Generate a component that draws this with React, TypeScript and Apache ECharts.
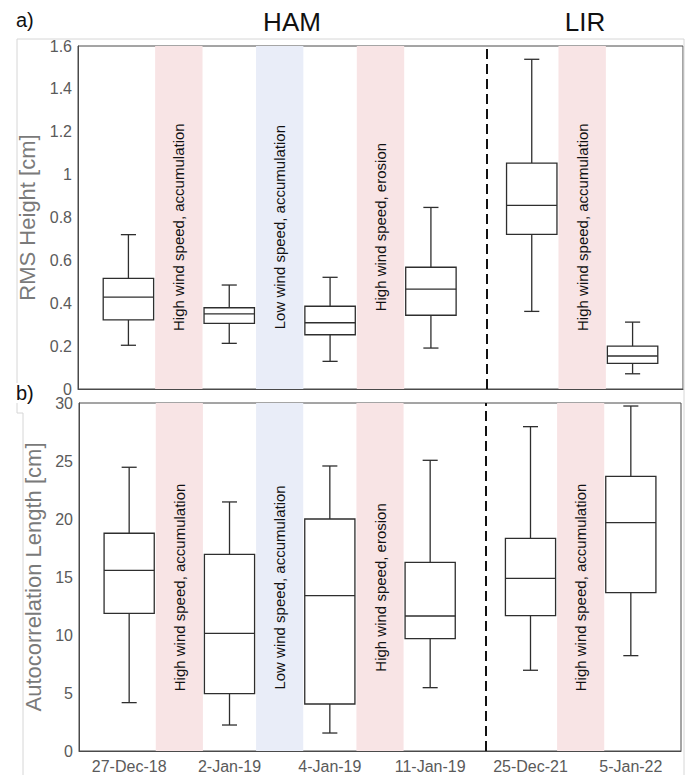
import React, { useEffect, useRef } from "react";
import * as echarts from "echarts";

// ---- data ----
const categories = ["27-Dec-18", "2-Jan-19", "4-Jan-19", "11-Jan-19", "25-Dec-21", "5-Jan-22"];
const boxPositions = [1, 3, 5, 7, 9, 11];

// RMS height [cm]
const rmsLow = [0.204, 0.213, 0.129, 0.191, 0.362, 0.071];
const rmsQ1 = [0.322, 0.306, 0.253, 0.344, 0.721, 0.12];
const rmsMedian = [0.429, 0.35, 0.309, 0.466, 0.857, 0.154];
const rmsQ3 = [0.516, 0.379, 0.386, 0.568, 1.054, 0.2];
const rmsHigh = [0.72, 0.485, 0.521, 0.847, 1.538, 0.312];

// Autocorrelation length [cm]
const aclLow = [4.17, 2.24, 1.55, 5.46, 6.96, 8.22];
const aclQ1 = [11.87, 4.94, 4.05, 9.68, 11.67, 13.65];
const aclMedian = [15.57, 10.14, 13.39, 11.64, 14.89, 19.68];
const aclQ3 = [18.77, 16.95, 20.0, 16.26, 18.33, 23.68];
const aclHigh = [24.46, 21.47, 24.57, 25.06, 27.96, 29.74];

const bandCenters = [2, 4, 6, 10];
const bandLabels = [
  "High wind speed, accumulation",
  "Low wind speed, accumulation",
  "High wind speed, erosion",
  "High wind speed, accumulation",
];
const bandKinds = ["high", "low", "high", "high"];
const siteDivider = 8.1;
const siteNames = ["HAM", "LIR"];
const topTicks = [0, 0.2, 0.4, 0.6, 0.8, 1, 1.2, 1.4, 1.6];
const bottomTicks = [0, 5, 10, 15, 20, 25, 30];

const FONT = "'Liberation Sans', Arial, Helvetica, sans-serif";
const BAND_COLOR: Record<string, string> = { high: "#f8e4e5", low: "#e9edf8" };
const BOX_COLOR = "#2e2e2e";

function boxRender(params: any, api: any) {
  const x = api.value(0);
  const low = api.coord([x, api.value(1)]);
  const q1 = api.coord([x, api.value(2)]);
  const med = api.coord([x, api.value(3)]);
  const q3 = api.coord([x, api.value(4)]);
  const high = api.coord([x, api.value(5)]);
  const unit = api.size([1, 0])[0];
  const hw = unit * 0.5;
  const cap = unit * 0.15;
  const cx = low[0];
  const st = { stroke: BOX_COLOR, lineWidth: 1.3, fill: "none" };
  return {
    type: "group",
    children: [
      { type: "rect", shape: { x: cx - hw, y: q3[1], width: 2 * hw, height: q1[1] - q3[1] }, style: st },
      { type: "line", shape: { x1: cx - hw, y1: med[1], x2: cx + hw, y2: med[1] }, style: st },
      { type: "line", shape: { x1: cx, y1: q3[1], x2: cx, y2: high[1] }, style: st },
      { type: "line", shape: { x1: cx - cap, y1: high[1], x2: cx + cap, y2: high[1] }, style: st },
      { type: "line", shape: { x1: cx, y1: q1[1], x2: cx, y2: low[1] }, style: st },
      { type: "line", shape: { x1: cx - cap, y1: low[1], x2: cx + cap, y2: low[1] }, style: st },
    ],
  };
}

function textRender(params: any, api: any) {
  const p = api.coord([api.value(0), api.value(1)]);
  return {
    type: "text",
    x: p[0],
    y: p[1],
    rotation: Math.PI / 2,
    style: {
      text: bandLabels[api.value(2)],
      fontSize: 15,
      fontFamily: FONT,
      fill: "#111",
      align: "center",
      verticalAlign: "middle",
    },
  };
}

function buildBoxData(low: number[], q1: number[], med: number[], q3: number[], high: number[]) {
  return boxPositions.map((x, i) => [x, low[i], q1[i], med[i], q3[i], high[i]]);
}

const markArea = {
  silent: true,
  data: bandCenters.map((c, i) => [
    { xAxis: c - 0.47, itemStyle: { color: BAND_COLOR[bandKinds[i]] } },
    { xAxis: c + 0.47 },
  ]),
};
const markLine = {
  silent: true,
  symbol: ["none", "none"],
  label: { show: false },
  lineStyle: { type: [10, 5], width: 2, color: "#111" },
  data: [{ xAxis: siteDivider }],
};

export default function App() {
  const ref = useRef<HTMLDivElement>(null);
  useEffect(() => {
    document.body.style.margin = "0";
    const chart = echarts.init(ref.current!, null, { renderer: "svg" });
    const axisLabelStyle = { color: "#5a5a5a", fontSize: 16, fontFamily: FONT, lineHeight: 13 };
    const nameStyle = { color: "#7a7a7a", fontSize: 22, fontFamily: FONT };
    const option: any = {
      animation: false,
      backgroundColor: "#fff",
      grid: [
        { left: 78, top: 46, width: 605, height: 343, show: true, borderColor: "#4a4a4a", borderWidth: 1, backgroundColor: "transparent" },
        { left: 79, top: 403, width: 602, height: 348, show: true, borderColor: "#4a4a4a", borderWidth: 1, backgroundColor: "transparent" },
      ],
      xAxis: [0, 1].map((g) => ({
        type: "value",
        gridIndex: g,
        min: 0,
        max: 12,
        interval: 1,
        axisLine: { show: true, lineStyle: { color: "#4a4a4a" } },
        axisTick: { show: false },
        splitLine: { show: false },
        axisLabel:
          g === 0
            ? { show: false }
            : {
                ...axisLabelStyle,
                margin: 9,
                formatter: (v: number) => {
                  const i = boxPositions.indexOf(v);
                  return i >= 0 ? categories[i] : "";
                },
              },
      })),
      yAxis: [
        {
          type: "value",
          gridIndex: 0,
          min: topTicks[0],
          max: topTicks[topTicks.length - 1],
          interval: 0.2,
          name: "RMS Height [cm]",
          nameLocation: "middle",
          nameGap: 38,
          nameTextStyle: nameStyle,
          axisLine: { show: true, lineStyle: { color: "#4a4a4a" } },
          axisTick: { show: false },
          splitLine: { show: false },
          axisLabel: { ...axisLabelStyle, margin: 6 },
        },
        {
          type: "value",
          gridIndex: 1,
          min: bottomTicks[0],
          max: bottomTicks[bottomTicks.length - 1],
          interval: 5,
          name: "Autocorrelation Length [cm]",
          nameLocation: "middle",
          nameGap: 31,
          nameTextStyle: nameStyle,
          axisLine: { show: true, lineStyle: { color: "#4a4a4a" } },
          axisTick: { show: false },
          splitLine: { show: false },
          axisLabel: { ...axisLabelStyle, margin: 6 },
        },
      ],
      series: [
        {
          type: "custom",
          xAxisIndex: 0,
          yAxisIndex: 0,
          renderItem: boxRender,
          data: buildBoxData(rmsLow, rmsQ1, rmsMedian, rmsQ3, rmsHigh),
          markArea,
          markLine,
          z: 3,
        },
        {
          type: "custom",
          xAxisIndex: 1,
          yAxisIndex: 1,
          renderItem: boxRender,
          data: buildBoxData(aclLow, aclQ1, aclMedian, aclQ3, aclHigh),
          markArea,
          markLine,
          z: 3,
        },
        {
          type: "custom",
          xAxisIndex: 0,
          yAxisIndex: 0,
          renderItem: textRender,
          data: bandCenters.map((c, i) => [c, 0.755, i]),
          z: 4,
        },
        {
          type: "custom",
          xAxisIndex: 1,
          yAxisIndex: 1,
          renderItem: textRender,
          data: bandCenters.map((c, i) => [c, 14.1, i]),
          z: 4,
        },
      ],
      graphic: [
        {
          type: "polyline",
          z: 0,
          silent: true,
          shape: { points: [[684, 775], [684, 39], [17, 39], [17, 413], [23, 413], [23, 775]] },
          style: { stroke: "#d6d6d6", lineWidth: 1, fill: "none" },
        },
        { type: "text", x: 292, y: 22, style: { text: siteNames[0], fontSize: 26, fontFamily: FONT, fill: "#111", align: "center", verticalAlign: "middle" } },
        { type: "text", x: 585, y: 22, style: { text: siteNames[1], fontSize: 26, fontFamily: FONT, fill: "#111", align: "center", verticalAlign: "middle" } },
        { type: "text", x: 16, y: 20, style: { text: "a)", fontSize: 20, fontFamily: FONT, fill: "#111", align: "left", verticalAlign: "middle" } },
        { type: "text", x: 16, y: 393, style: { text: "b)", fontSize: 20, fontFamily: FONT, fill: "#111", align: "left", verticalAlign: "middle", backgroundColor: "#fff" } },
      ],
    };
    chart.setOption(option);
    return () => chart.dispose();
  }, []);
  return <div ref={ref} style={{ width: 688, height: 775 }} />;
}
